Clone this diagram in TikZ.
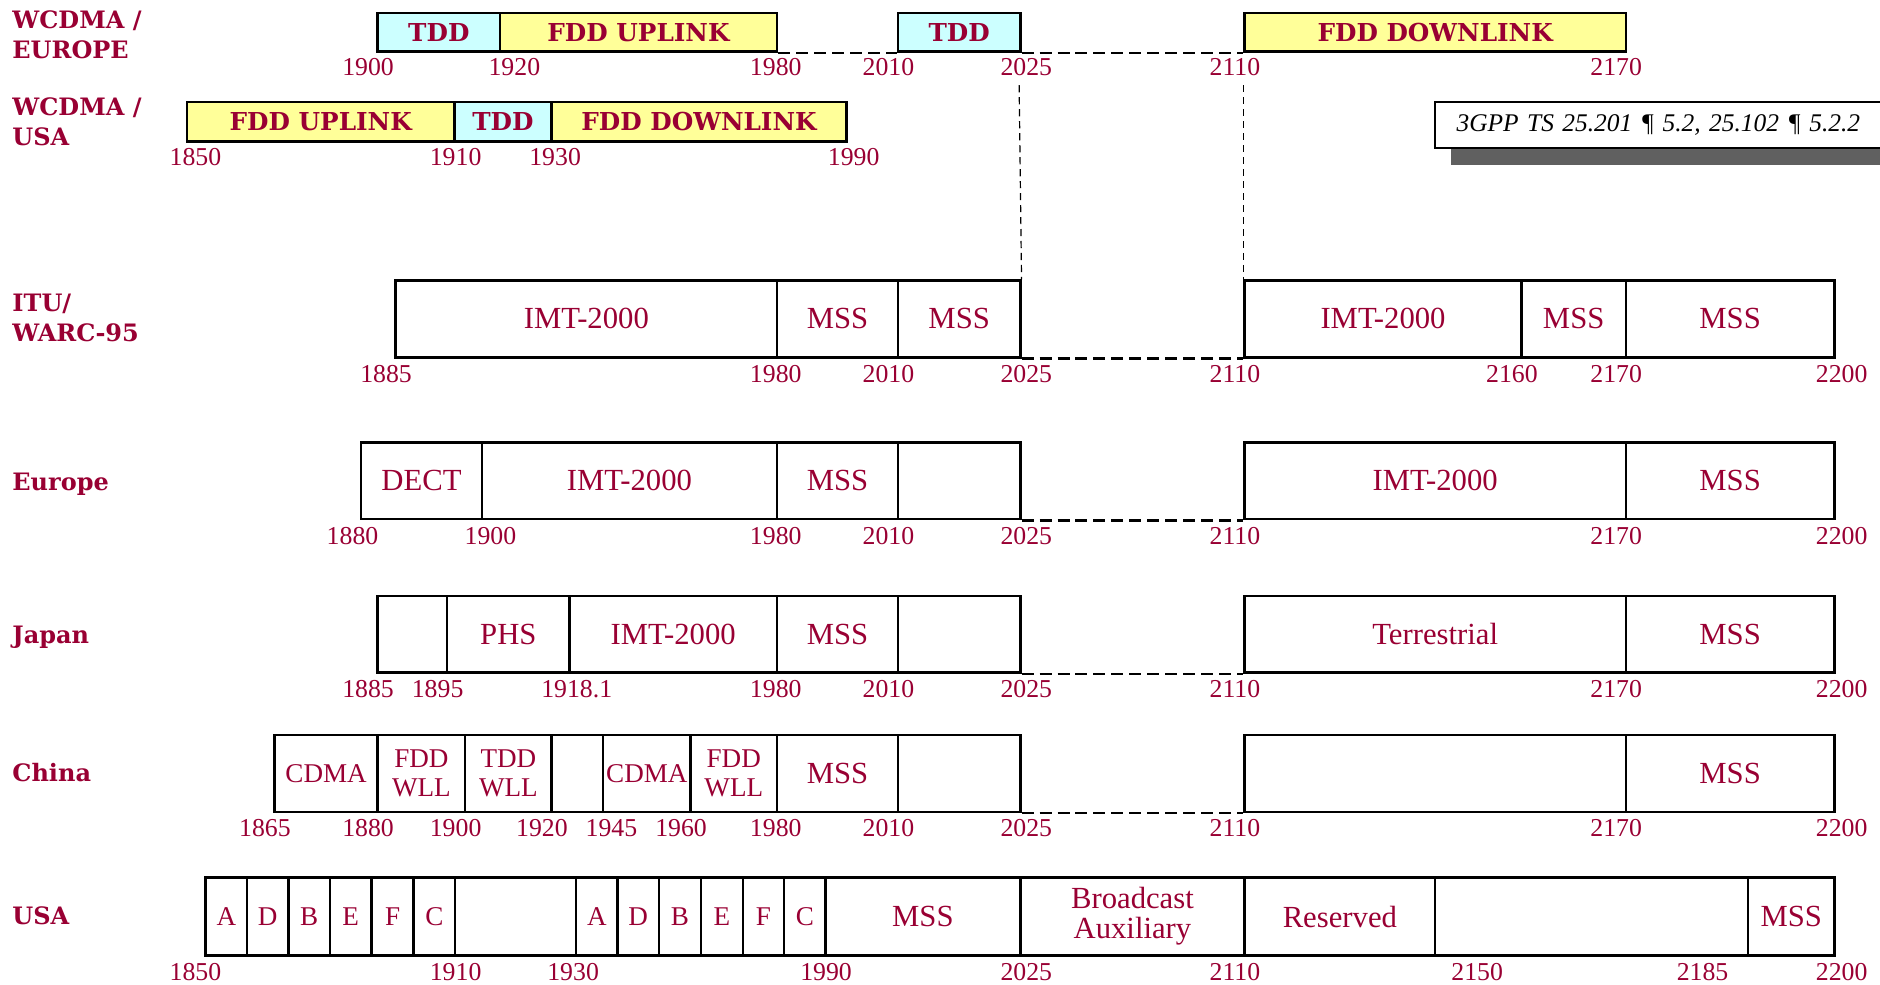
\documentclass[tikz,border=0pt]{standalone}
\usepackage{fontspec}
\setmainfont{Liberation Serif}
\newfontfamily\rowfont{DejaVu Serif}
\usetikzlibrary{shadows}

\definecolor{bandred}{RGB}{153,0,51}
\definecolor{tddcyan}{RGB}{204,255,255}
\definecolor{fddyellow}{RGB}{255,255,153}
\definecolor{shadowgray}{RGB}{96,96,96}

% style, name, left, right, top, bottom, text
\newcommand\bandseg[7]{%
  \node[#1, minimum width={(#4-#3)*0.5pt}, minimum height={(#6-#5)*0.5pt}] (#2) at (#3,#5) {#7};}

\tikzset{
  seg/.style={draw, line width=1pt, inner sep=0pt, anchor=north west, align=center,
    text=bandred, font=\fontsize{12.8}{12.5}\selectfont},
  narrowseg/.style={seg, font=\fontsize{11.3}{12}\selectfont},
  wseg/.style={seg, font=\rowfont\bfseries\fontsize{10.3}{12}\selectfont},
  tdd/.style={wseg, fill=tddcyan},
  fdd/.style={wseg, fill=fddyellow},
  freq/.style={inner sep=0pt, text=bandred, font=\fontsize{10.75}{11}\selectfont},
  rowlabel/.style={anchor=base west, inner sep=0pt, align=left, text=bandred,
    font=\rowfont\bfseries\fontsize{10}{12.5}\selectfont},
  gap/.style={line width=1pt, dash pattern=on 5pt off 2.5pt},
  guide/.style={line width=0.5pt, dash pattern=on 3pt off 2pt},
  note/.style={draw, line width=0.8pt, fill=white, anchor=north west, minimum height=19.5pt,
    text width=190pt, align=left, inner xsep=9pt, inner ysep=0pt,
    font=\itshape\fontsize{10.6}{12}\selectfont,
    drop shadow={shadow xshift=6.5pt, shadow yshift=-7pt, fill=shadowgray, opacity=1}}
}

\begin{document}
\begin{tikzpicture}[x=0.5pt, y=-0.5pt]
  \useasboundingbox (0,0) rectangle (1568,821);

  % row titles (base = last line)
  \node[rowlabel] (t-we) at (10,49) {WCDMA /\\EUROPE};
  \node[rowlabel] (t-wu) at (10,121) {WCDMA /\\USA};
  \node[rowlabel] (t-itu) at (10,285) {ITU/\\WARC-95};
  \node[rowlabel] (t-eu) at (10,409) {Europe};
  \node[rowlabel] (t-jp) at (10,537) {Japan};
  \node[rowlabel] (t-cn) at (10,652) {China};
  \node[rowlabel] (t-us) at (10,771) {USA};

  % WCDMA / Europe
  \bandseg{tdd}{we1}{314}{416}{10}{42}{TDD}
  \bandseg{fdd}{we2}{416}{647}{10}{42}{FDD UPLINK}
  \bandseg{tdd}{we3}{748}{850}{10}{42}{TDD}
  \bandseg{fdd}{we4}{1037}{1355}{10}{42}{FDD DOWNLINK}
  \foreach \x/\f [count=\i] in {307/1900, 429/1920, 647/1980, 741/2010, 856/2025, 1030/2110, 1348/2170}
    \node[freq] (we-f\i) at (\x,56) {\f};
  \draw[gap] (we2.south east) -- (we3.south west);
  \draw[gap] (we3.south east) -- (we4.south west);

  % WCDMA / USA
  \bandseg{fdd}{wu1}{155}{378}{84}{117}{FDD UPLINK}
  \bandseg{tdd}{wu2}{378}{459}{84}{117}{TDD}
  \bandseg{fdd}{wu3}{459}{705}{84}{117}{FDD DOWNLINK}
  \foreach \x/\f [count=\i] in {163/1850, 380/1910, 463/1930, 712/1990}
    \node[freq] (wu-f\i) at (\x,131) {\f};

  \node[note] (ref) at (1196,84) {3GPP TS 25.201 ¶ 5.2, 25.102 ¶ 5.2.2};

  % ITU / WARC-95
  \foreach \a/\b/\t [count=\i] in {329/647/IMT-2000, 647/748/MSS, 748/850/MSS,
      1037/1268/IMT-2000, 1268/1355/MSS, 1355/1529/MSS}
    \bandseg{seg}{itu\i}{\a}{\b}{233}{297}{\t};
  \foreach \x/\f [count=\i] in {322/1885, 647/1980, 741/2010, 856/2025, 1030/2110, 1261/2160, 1348/2170, 1536/2200}
    \node[freq] (itu-f\i) at (\x,312) {\f};
  \draw[gap] (itu3.south east) -- (itu4.south west);
  \coordinate (g1) at (850,71);
  \coordinate (g2) at (1037,71);
  \draw[guide] (g1) -- (itu3.north east);
  \draw[guide] (g2) -- (itu4.north west);

  % Europe
  \foreach \a/\b/\t [count=\i] in {300/401/DECT, 401/647/IMT-2000, 647/748/MSS, 748/850/,
      1037/1355/IMT-2000, 1355/1529/MSS}
    \bandseg{seg}{eu\i}{\a}{\b}{368}{432}{\t};
  \foreach \x/\f [count=\i] in {294/1880, 409/1900, 647/1980, 741/2010, 856/2025, 1030/2110, 1348/2170, 1536/2200}
    \node[freq] (eu-f\i) at (\x,447) {\f};
  \draw[gap] (eu4.south east) -- (eu5.south west);

  % Japan
  \foreach \a/\b/\t [count=\i] in {314/372/, 372/474/PHS, 474/647/IMT-2000, 647/748/MSS, 748/850/,
      1037/1355/Terrestrial, 1355/1529/MSS}
    \bandseg{seg}{jp\i}{\a}{\b}{496}{560}{\t};
  \foreach \x/\f [count=\i] in {307/1885, 365/1895, 481/1918.1, 647/1980, 741/2010, 856/2025, 1030/2110, 1348/2170, 1536/2200}
    \node[freq] (jp-f\i) at (\x,575) {\f};
  \draw[gap] (jp5.south east) -- (jp6.south west);

  % China
  \foreach \a/\b/\t [count=\i] in {228/314/CDMA, 314/387/{FDD\\WLL}, 387/459/{TDD\\WLL},
      459/502/, 502/575/CDMA, 575/647/{FDD\\WLL}}
    \bandseg{narrowseg}{cn\i}{\a}{\b}{612}{676}{\t};
  \foreach \a/\b/\t [count=\i from 7] in {647/748/MSS, 748/850/, 1037/1355/, 1355/1529/MSS}
    \bandseg{seg}{cn\i}{\a}{\b}{612}{676}{\t};
  \foreach \x/\f [count=\i] in {221/1865, 307/1880, 380/1900, 452/1920, 510/1945, 568/1960, 647/1980,
      741/2010, 856/2025, 1030/2110, 1348/2170, 1536/2200}
    \node[freq] (cn-f\i) at (\x,691) {\f};
  \draw[gap] (cn8.south east) -- (cn9.south west);

  % USA
  \foreach \a/\b/\t [count=\i] in {170.5/205/A, 205/239.5/D, 239.5/274/B, 274/309/E, 309/344/F, 344/378.5/C,
      479.5/514/A, 514/548.5/D, 548.5/583.5/B, 583.5/618.5/E, 618.5/653/F, 653/687.5/C}
    \bandseg{narrowseg}{us\i}{\a}{\b}{731}{796}{\t};
  \foreach \a/\b/\t [count=\i from 13] in {378.5/479.5/, 687.5/850/MSS, 850/1037/{Broadcast\\Auxiliary},
      1037/1196/Reserved, 1196/1457/, 1457/1529/MSS}
    \bandseg{seg}{us\i}{\a}{\b}{731}{796}{\t};
  \foreach \x/\f [count=\i] in {163/1850, 380/1910, 478/1930, 689/1990, 856/2025, 1030/2110, 1232/2150, 1420/2185, 1536/2200}
    \node[freq] (us-f\i) at (\x,811) {\f};
\end{tikzpicture}
\end{document}
